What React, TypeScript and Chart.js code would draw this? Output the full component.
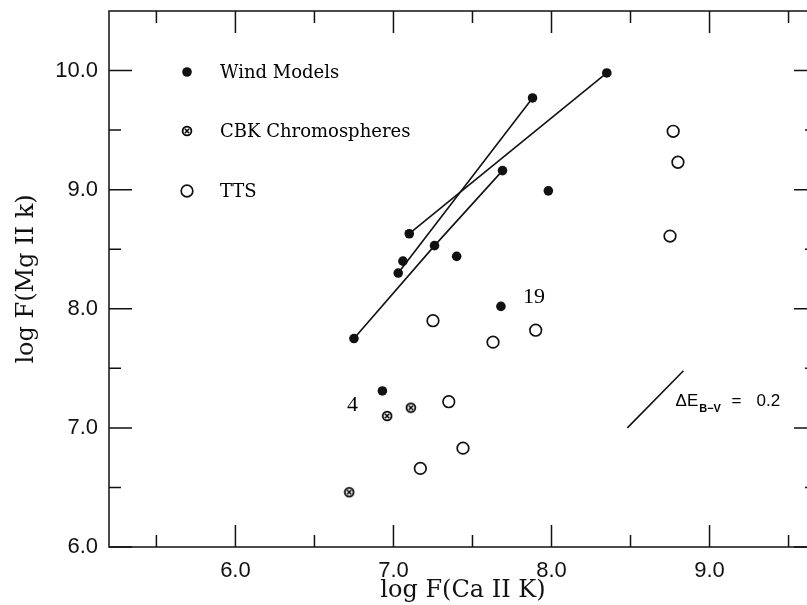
import React, { useEffect, useRef } from "react";
import { Chart, registerables } from "chart.js";

Chart.register(...registerables);

// ---- axes ----
const X_RANGE = [5.2, 9.68];
const Y_RANGE = [6.0, 10.5];
const X_TICKS = [6, 7, 8, 9];
const X_MINOR = [5.5, 6.5, 7.5, 8.5, 9.5];
const Y_TICKS = [6, 7, 8, 9, 10];
const Y_MINOR = [6.5, 7.5, 8.5, 9.5];

// ---- series ----
const windX = [6.75, 7.03, 7.06, 7.1, 7.26, 7.4, 7.69, 7.88, 8.35, 7.98, 7.68, 6.93];
const windY = [7.75, 8.3, 8.4, 8.63, 8.53, 8.44, 9.16, 9.77, 9.98, 8.99, 8.02, 7.31];

const cbkX = [6.96, 7.11, 6.72];
const cbkY = [7.1, 7.17, 6.46];

const ttsX = [7.25, 7.63, 7.9, 7.35, 7.44, 7.17, 8.77, 8.8, 8.75];
const ttsY = [7.9, 7.72, 7.82, 7.22, 6.83, 6.66, 9.49, 9.23, 8.61];

// model tracks
const track1X = [6.75, 7.26, 7.69];
const track1Y = [7.75, 8.53, 9.16];
const track2X = [7.03, 7.88];
const track2Y = [8.3, 9.77];
const track3X = [7.1, 8.35];
const track3Y = [8.63, 9.98];

// reddening vector dE(B-V) = 0.2
const reddenX = [8.48, 8.835];
const reddenY = [7.0, 7.48];

const LEGEND_LABELS = ["Wind Models", "CBK Chromospheres", "TTS"];
const X_TITLE = "log F(Ca II K)";
const Y_TITLE = "log F(Mg II k)";

const zip = (xs: number[], ys: number[]) => xs.map((x, i) => ({ x, y: ys[i] }));

function makeCbkSymbol(): HTMLCanvasElement {
  const c = document.createElement("canvas");
  c.width = 12;
  c.height = 12;
  const g = c.getContext("2d")!;
  g.strokeStyle = "#000";
  g.lineWidth = 1.8;
  g.beginPath();
  g.arc(6, 6, 4.4, 0, Math.PI * 2);
  g.stroke();
  g.lineWidth = 1.5;
  g.beginPath();
  g.moveTo(3.8, 3.8);
  g.lineTo(8.2, 8.2);
  g.moveTo(8.2, 3.8);
  g.lineTo(3.8, 8.2);
  g.stroke();
  return c;
}

export default function App() {
  const ref = useRef<HTMLCanvasElement | null>(null);

  useEffect(() => {
    if (!ref.current) return;
    const cbkImg = makeCbkSymbol();

    const framePlugin = {
      id: "framePlugin",
      afterDatasetsDraw(chart: any) {
        const { ctx, chartArea: a, scales } = chart;
        const xs = scales.x;
        const ys = scales.y;
        ctx.save();
        ctx.strokeStyle = "#111";
        ctx.lineWidth = 1.5;
        ctx.strokeRect(a.left, a.top, a.right - a.left, a.bottom - a.top);
        ctx.beginPath();
        const xt = (v: number, len: number) => {
          const p = xs.getPixelForValue(v);
          ctx.moveTo(p, a.bottom);
          ctx.lineTo(p, a.bottom - len);
          ctx.moveTo(p, a.top);
          ctx.lineTo(p, a.top + len);
        };
        const yt = (v: number, len: number) => {
          const p = ys.getPixelForValue(v);
          ctx.moveTo(a.left, p);
          ctx.lineTo(a.left + len, p);
          ctx.moveTo(a.right, p);
          ctx.lineTo(a.right - len, p);
        };
        X_TICKS.forEach((v) => xt(v, 22));
        X_MINOR.forEach((v) => xt(v, 12));
        Y_TICKS.forEach((v) => yt(v, 23));
        Y_MINOR.forEach((v) => yt(v, 12));
        ctx.stroke();

        // legend (inside plot, top-left)
        const lx = a.left + 78;
        const tx = a.left + 111;
        const rows = [a.top + 61, a.top + 120, a.top + 180];
        ctx.fillStyle = "#111";
        ctx.beginPath();
        ctx.arc(lx, rows[0], 4.8, 0, Math.PI * 2);
        ctx.fill();
        ctx.drawImage(cbkImg, lx - 6, rows[1] - 6);
        ctx.lineWidth = 1.7;
        ctx.beginPath();
        ctx.arc(lx, rows[2], 5.8, 0, Math.PI * 2);
        ctx.stroke();
        ctx.fillStyle = "#000";
        ctx.font = "18px 'DejaVu Serif'";
        ctx.textBaseline = "middle";
        ctx.textAlign = "left";
        LEGEND_LABELS.forEach((t, i) => ctx.fillText(t, tx, rows[i] + 1));

        // point labels
        ctx.font = "22px 'Liberation Serif'";
        ctx.textAlign = "center";
        ctx.textBaseline = "middle";
        ctx.fillText("4", xs.getPixelForValue(6.74), ys.getPixelForValue(7.19));
        ctx.fillText("19", xs.getPixelForValue(7.89), ys.getPixelForValue(8.1));

        // reddening label
        const bx = xs.getPixelForValue(8.785);
        const by = ys.getPixelForValue(7.235) + 6;
        ctx.textAlign = "left";
        ctx.textBaseline = "alphabetic";
        ctx.font = "17px 'Liberation Sans'";
        ctx.fillText("\u0394E", bx, by);
        const w1 = ctx.measureText("\u0394E").width;
        ctx.font = "bold 11px 'Liberation Sans'";
        ctx.fillText("B\u2212V", bx + w1 + 1, by + 6);
        ctx.font = "17px 'Liberation Sans'";
        ctx.fillText("=", bx + 56, by);
        ctx.fillText("0.2", bx + 81, by);
        ctx.restore();
      },
    };

    const chart = new Chart(ref.current, {
      type: "scatter",
      data: {
        datasets: [
          {
            label: "Wind Models",
            data: zip(windX, windY),
            pointStyle: "circle",
            pointRadius: 4.8,
            backgroundColor: "#111",
            borderColor: "#111",
            borderWidth: 0,
          },
          {
            label: "CBK Chromospheres",
            data: zip(cbkX, cbkY),
            pointStyle: cbkImg,
            pointRadius: 6,
          },
          {
            label: "TTS",
            data: zip(ttsX, ttsY),
            pointStyle: "circle",
            pointRadius: 5.8,
            backgroundColor: "rgba(255,255,255,1)",
            borderColor: "#111",
            borderWidth: 1.7,
          },
          ...[
            zip(track1X, track1Y),
            zip(track2X, track2Y),
            zip(track3X, track3Y),
            zip(reddenX, reddenY),
          ].map((d) => ({
            label: "",
            data: d,
            showLine: true,
            pointRadius: 0,
            borderColor: "#111",
            borderWidth: 1.6,
            fill: false,
          })),
        ],
      } as any,
      options: {
        responsive: false,
        animation: false,
        devicePixelRatio: 1,
        layout: { padding: { top: 11, right: 13, bottom: 0, left: 0 } },
        plugins: { legend: { display: false }, tooltip: { enabled: false } },
        scales: {
          x: {
            type: "linear",
            min: X_RANGE[0],
            max: X_RANGE[1],
            grid: { display: false, drawTicks: false },
            border: { display: false },
            afterFit: (s: any) => {
              s.height = 58;
              s.paddingLeft = 0;
              s.paddingRight = 0;
            },
            afterBuildTicks: (s: any) => {
              s.ticks = X_TICKS.map((v) => ({ value: v }));
            },
            ticks: {
              padding: 11,
              color: "#111",
              font: { family: "'Liberation Sans'", size: 22 },
              callback: (v: any) => Number(v).toFixed(1),
            },
            title: {
              display: true,
              text: X_TITLE,
              color: "#111",
              font: { family: "'DejaVu Serif'", size: 24 },
              padding: { top: 0, bottom: 0 },
            },
          },
          y: {
            type: "linear",
            min: Y_RANGE[0],
            max: Y_RANGE[1],
            grid: { display: false, drawTicks: false },
            border: { display: false },
            afterFit: (s: any) => {
              s.width = 109;
              s.paddingTop = 0;
              s.paddingBottom = 0;
            },
            afterBuildTicks: (s: any) => {
              s.ticks = Y_TICKS.map((v) => ({ value: v }));
            },
            ticks: {
              padding: 11,
              color: "#111",
              font: { family: "'Liberation Sans'", size: 22 },
              callback: (v: any) => Number(v).toFixed(1),
            },
            title: {
              display: true,
              text: Y_TITLE,
              color: "#111",
              font: { family: "'DejaVu Serif'", size: 24 },
              padding: { top: 12, bottom: 0 },
            },
          },
        },
      },
      plugins: [framePlugin],
    } as any);

    return () => chart.destroy();
  }, []);

  return (
    <div
      style={{
        position: "fixed",
        left: 0,
        top: 0,
        width: 807,
        height: 605,
        overflow: "hidden",
        background: "#fff",
      }}
    >
      <canvas ref={ref} width={830} height={605} style={{ display: "block" }} />
    </div>
  );
}
